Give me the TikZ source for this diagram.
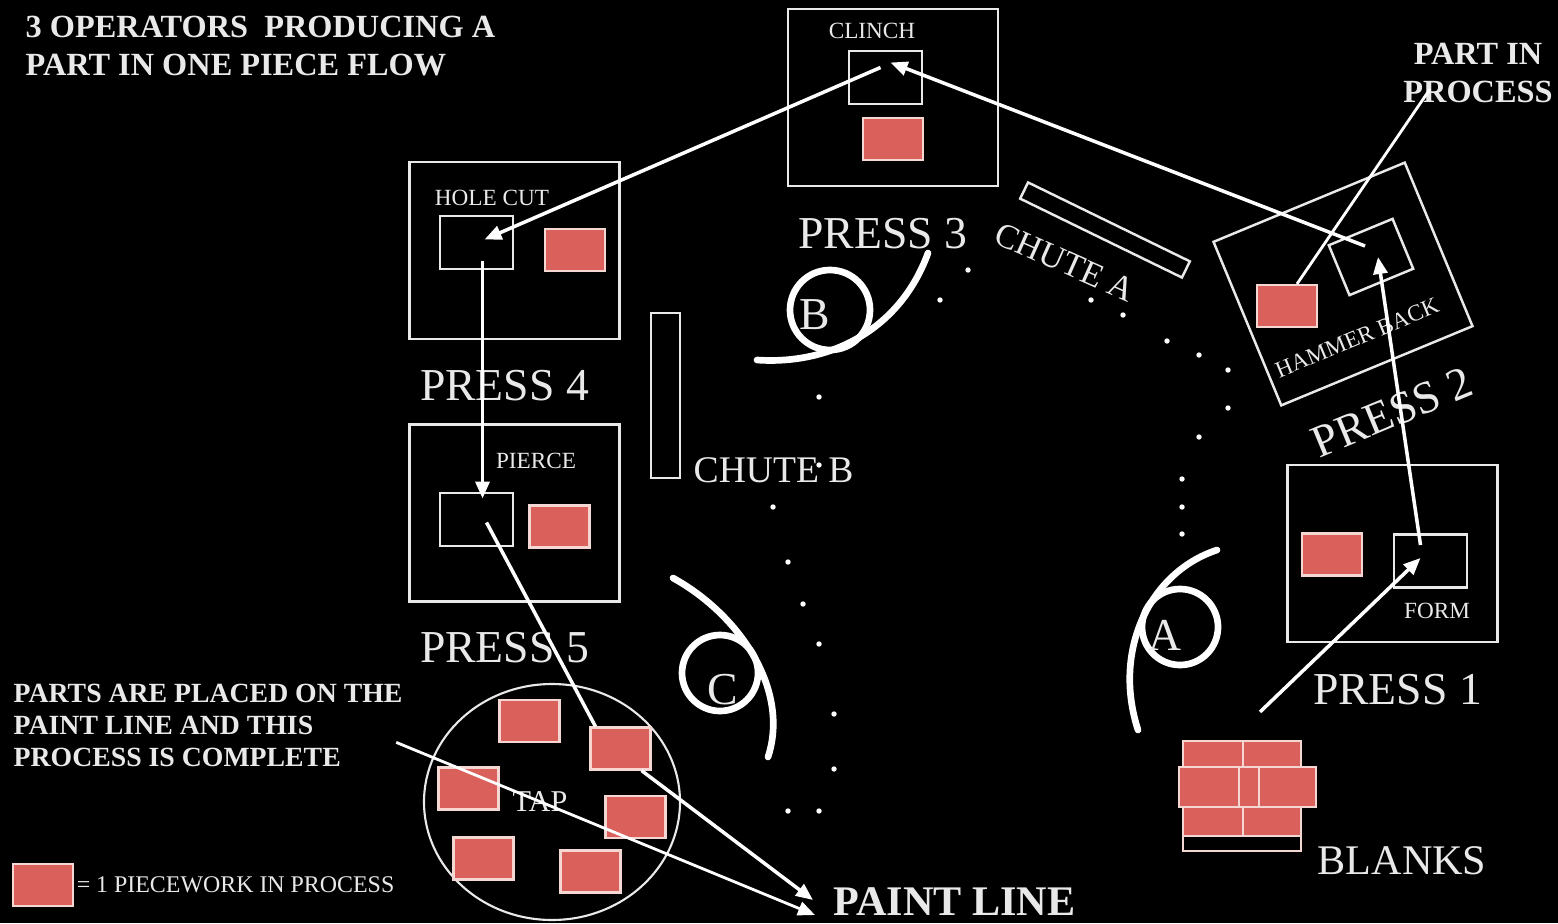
\documentclass[tikz,border=0pt]{standalone}
\usepackage{fontspec}
\setmainfont{Liberation Serif}
\usetikzlibrary{positioning,arrows.meta,calc,shapes.geometric}
\definecolor{ink}{HTML}{000000}
\definecolor{chalk}{HTML}{E9E9E9}
\definecolor{wipred}{HTML}{D9605B}
\definecolor{wipedge}{HTML}{F4D6D2}
\tikzset{
  press/.style={draw=chalk, line width=0.7pt, minimum width=21mm, minimum height=17.7mm, inner sep=0pt},
  die/.style={draw=chalk, line width=0.7pt, minimum width=7.3mm, minimum height=5.3mm, inner sep=0pt},
  wip/.style={draw=wipedge, fill=wipred, line width=0.6pt, minimum width=6mm, minimum height=4.2mm, inner sep=0pt},
  chute/.style={draw=chalk, line width=0.7pt, inner sep=0pt},
  tag/.style={text=chalk, font=\fontsize{6.6}{8}\selectfont, inner sep=0pt},
  big/.style={text=chalk, font=\fontsize{13}{15}\selectfont, inner sep=0pt},
  hdr/.style={text=chalk, font=\bfseries\fontsize{9.2}{10.8}\selectfont, align=left, inner sep=0pt},
  ring/.style={circle, draw=white, line width=1.9pt, minimum size=7.6mm, inner sep=0pt},
  op/.style={draw=white, line width=1.9pt, line cap=round},
  flow/.style={draw=white, line width=1pt, -{Triangle[length=1.7mm, width=1.4mm]}},
  lead/.style={draw=white, line width=0.8pt},
}

\begin{document}
\begin{tikzpicture}[x=0.1mm, y=-0.1mm]
\useasboundingbox (0,0) rectangle (1558,923);
\fill[ink] (0,0) rectangle (1558,923);

% headings
\node[hdr, anchor=north west] (title) at (25,15) {3 OPERATORS\ \ PRODUCING A\\PART IN ONE PIECE FLOW};
\node[hdr, align=center, anchor=north] (pip) at (1478,42) {PART IN\\PROCESS};
\node[hdr, font=\bfseries\fontsize{7.9}{9.2}\selectfont, anchor=north west] (placed) at (13,683) {PARTS ARE PLACED ON THE\\PAINT LINE AND THIS\\PROCESS IS COMPLETE};
\node[hdr, font=\bfseries\fontsize{12}{14}\selectfont, anchor=west] (paint) at (833,902) {PAINT LINE};

% press 3
\node[press] (p3) at (893,97.5) {};
\node[tag] (ckname) at (872,31) {CLINCH};
\node[die] (ck) at (885.5,77.5) {};
\node[wip] (w3) at (893,139) {};
\node[big, below=3mm of p3, xshift=-1mm] (p3name) {PRESS 3};

% press 4
\node[press] (p4) at (514.5,250.5) {};
\node[tag] (hcname) at (492,198) {HOLE CUT};
\node[die] (hc) at (476.5,242.5) {};
\node[wip] (w4) at (575,250) {};
\node[big, below=2.9mm of p4, xshift=-1mm] (p4name) {PRESS 4};

% press 5
\node[press] (p5) at (514.5,513) {};
\node[tag] (pcname) at (536,461) {PIERCE};
\node[die] (pc) at (476.5,519.5) {};
\node[wip] (w5) at (559.5,526.5) {};
\node[big, below=2.9mm of p5, xshift=-1mm] (p5name) {PRESS 5};

% press 1
\node[press] (p1) at (1392.5,553.5) {};
\node[die] (fm) at (1430.5,561) {};
\node[tag] (fmname) at (1437,611) {FORM};
\node[wip] (w1) at (1332,554.5) {};
\node[big, below=3mm of p1, xshift=0.5mm] (p1name) {PRESS 1};

% press 2, turned
\node[press, rotate=22.5, minimum width=20.7mm] (p2) at (1343,284) {};
\node[die, rotate=22.5, minimum width=6.9mm, minimum height=5.4mm] (hb) at (1371,257) {};
\node[tag, rotate=22.5] (hbname) at (1357,338) {HAMMER BACK};
\node[wip] (w2) at (1287,306) {};
\node[big, rotate=22.5] (p2name) at (1392,412) {PRESS 2};

% chutes
\node[chute, rotate=-26, minimum width=18mm, minimum height=1.8mm] (chA) at (1105,230) {};
\node[big, font=\fontsize{9.8}{12}\selectfont, rotate=-24] (chAname) at (1065,262) {CHUTE A};
\node[chute, minimum width=2.9mm, minimum height=16.5mm] (chB) at (665.5,395.5) {};
\node[big, font=\fontsize{10.7}{12}\selectfont, anchor=west] (chBname) at (693,470) {CHUTE B};

% operators
\node[ring, minimum size=8mm] (ringB) at (830,310) {};
\node[big] (opB) at (815,315) {B};
\draw[op] (757,360) .. controls (830,365) and (900,330) .. (928,253);
\node[ring] (ringA) at (1180,627) {};
\node[big] (opA) at (1165,635) {A};
\draw[op] (1217,550) .. controls (1150,572) and (1112,650) .. (1138,730);
\node[ring] (ringC) at (720,673) {};
\node[big] (opC) at (723,690) {C};
\draw[op] (673,578) .. controls (740,615) and (790,690) .. (768,757);

% walk path
\foreach \dx/\dy in {788/811, 819/811, 834/769, 834/714, 819/644, 803/604, 788/562, 773/507, 819/465, 819/397, 940/300, 968/270, 1091/300, 1123/315, 1167/341, 1199/355, 1228/370, 1228/408, 1199/437, 1182/479, 1182/507, 1182/534}
  \fill[white] (\dx,\dy) circle [radius=0.27mm];

% tap
\node[draw=chalk, line width=0.6pt, ellipse, minimum width=25.6mm, minimum height=23.6mm, inner sep=0pt] (tap) at (552,802) {};
\foreach \tx/\ty [count=\k] in {529.5/721, 620.5/748.5, 468.5/788.5, 635.5/817, 483.5/858.5, 590.5/871.5}
  \node[wip] (tap\k) at (\tx,\ty) {};
\node[tag, font=\fontsize{8.6}{10}\selectfont] (tapname) at (540,802) {TAP};

% blanks
\node[wip, minimum height=2.6mm] (b1) at (1213,754) {};
\node[wip, minimum width=5.8mm, minimum height=2.6mm] (b2) at (1272,754) {};
\node[wip, minimum height=2.9mm] (b3) at (1213,821.5) {};
\node[wip, minimum width=5.8mm, minimum height=2.9mm] (b4) at (1272,821.5) {};
\node[wip, fill=ink, minimum width=11.8mm, minimum height=1.5mm] (b5) at (1242,843.5) {};
\node[wip, minimum height=4mm] (b6) at (1209,787) {};
\node[wip, minimum height=4mm] (b7) at (1269,787) {};
\node[wip, minimum width=5.7mm, minimum height=4mm] (b8) at (1287.5,787) {};
\node[big, font=\fontsize{12}{14}\selectfont] (blanks) at (1402,861) {BLANKS};

% legend
\node[wip] (w0) at (43,885) {};
\node[tag, font=\fontsize{6.8}{8}\selectfont, right=0.2mm of w0] (legend) {= 1 PIECEWORK IN PROCESS};

% one piece flow
\draw[flow] ($(b2.north)+(-12,-28)$) -- ($(fm.center)+(-10,-3)$);
\draw[flow] ($(fm.center)+(-10,-16)$) -- ($(hb.center)+(7,0)$);
\draw[flow] ($(hb.center)+(-6,-11)$) -- ($(ck.center)+(5,-15)$);
\draw[flow] ($(ck.center)+(-5,-10)$) -- ($(hc.center)+(8,-3)$);
\draw[flow] ($(hc.center)+(6,18)$) -- ($(pc.center)+(6,-21)$);
\draw[lead, line width=1pt] ($(pc.center)+(10,3)$) -- ($(tap2.north west)+(6,0)$);
\draw[flow] ($(tap2.south east)+(-10,0)$) -- ($(paint.west)+(-20,-2)$);
\draw[flow, line width=0.8pt] ($(placed.east)+(-7,17)$) -- ($(paint.west)+(-18,13)$);
\draw[lead] ($(pip.south)+(-48,-14)$) -- ($(w2.north)+(10,0)$);
\end{tikzpicture}
\end{document}
